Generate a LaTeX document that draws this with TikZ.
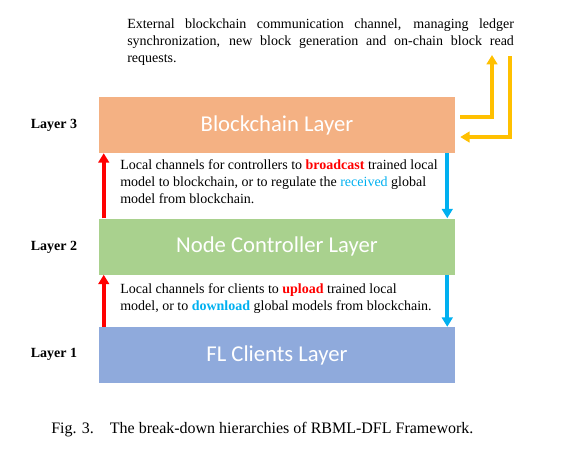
\documentclass[tikz,border=0pt]{standalone}
\usepackage{fontspec}
\setmainfont{Liberation Serif}
\newfontfamily\boxfont{Carlito}
\usetikzlibrary{positioning, arrows.meta}
\definecolor{chainorange}{HTML}{F4B183}
\definecolor{ctrlgreen}{HTML}{A9D18E}
\definecolor{clientblue}{HTML}{8FAADC}
\definecolor{upred}{HTML}{FF0000}
\definecolor{downblue}{HTML}{00B0F0}
\definecolor{extgold}{HTML}{FFC000}

\begin{document}
\begin{tikzpicture}[
  x=0.75pt, y=-0.75pt,
  layerbox/.style={
    minimum width=267pt, minimum height=42pt, inner sep=0pt,
    text=white, font=\boxfont\fontsize{17}{20}\selectfont
  },
  layertag/.style={font=\fontsize{10.5}{12}\selectfont\bfseries},
  channel/.style={align=left, anchor=north west, inner sep=0pt,
    font=\fontsize{10.5}{12.75}\selectfont},
  uparrow/.style={-{Triangle[width=8pt, length=7pt]}, line width=2.8pt, draw=upred},
  downarrow/.style={-{Triangle[width=8pt, length=7pt]}, line width=2.8pt, draw=downblue},
  extarrow/.style={-{Triangle[width=8pt, length=7pt]}, line width=2.6pt, draw=extgold},
]
\useasboundingbox (0,0) rectangle (565,451);

% the three layers
\node[layerbox, fill=chainorange] (chain) at (277,125) {Blockchain Layer};
\node[layerbox, fill=ctrlgreen, below=48.75pt of chain] (ctrl) {Node Controller Layer};
\node[layerbox, fill=clientblue, below=39pt of ctrl] (clients) {FL Clients Layer};

\node[layertag] (tag3) at (54,125) {Layer 3};
\node[layertag] (tag2) at (54,247) {Layer 2};
\node[layertag] (tag1) at (54,354) {Layer 1};

% channel descriptions
\node[channel, anchor=north west, text width=290pt, align=justify] (exttext) at (127,19)
  {External blockchain communication channel, managing ledger\linebreak
   synchronization, new block generation and on-chain block read\linebreak
   requests.};
\node[channel] (text32) at (120,159)
  {Local channels for controllers to \textcolor{upred}{\textbf{broadcast}} trained local\\
   model to blockchain, or to regulate the \textcolor{downblue}{received} global\\
   model from blockchain.};
\node[channel] (text21) at (120,283)
  {Local channels for clients to \textcolor{upred}{\textbf{upload}} trained local\\
   model, or to \textcolor{downblue}{\textbf{download}} global models from blockchain.};

% local channels
\draw[uparrow] ([xshift=3.75pt]ctrl.north west) -- ([xshift=3.75pt]chain.south west);
\draw[downarrow] ([xshift=-6pt]chain.south east) -- ([xshift=-6pt]ctrl.north east);
\draw[uparrow] ([xshift=3.75pt]clients.north west) -- ([xshift=3.75pt]ctrl.south west);
\draw[downarrow] ([xshift=-6pt]ctrl.south east) -- ([xshift=-6pt]clients.north east);

% external channel
\coordinate (outtop) at (492,55);
\coordinate (intop) at (510,56);
\draw[extarrow] ([xshift=3.75pt, yshift=6pt]chain.east) -| (outtop);
\draw[extarrow] (intop) |- ([xshift=3.75pt, yshift=-9pt]chain.east);

% caption
\node[font=\fontsize{12}{14}\selectfont, anchor=west, inner sep=0pt] (caption) at (51,430)
  {Fig. 3.\quad The break-down hierarchies of RBML-DFL Framework.};
\end{tikzpicture}
\end{document}
